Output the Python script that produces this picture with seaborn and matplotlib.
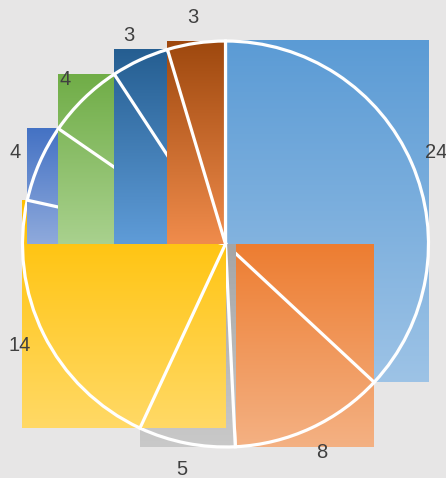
import matplotlib
matplotlib.use("Agg")
import matplotlib.pyplot as plt
import matplotlib.colors as mcolors
import seaborn as sns
import numpy as np

# slice values, clockwise from 12 o'clock
values = [24, 8, 5, 14, 4, 4, 3, 3]
labels = [str(v) for v in values]

# gradient fill per slice (top colour, bottom colour)
top_colors = ['#5b9bd5', '#ed7d31', '#a5a5a5', '#ffc000',
              '#4472c4', '#70ad47', '#255e91', '#9e480e']
bottom_colors = ['#9dc3e6', '#f4b183', '#c9c9c9', '#ffd966',
                 '#8faadc', '#a9d18e', '#5f9cd8', '#f08c4c']

bg = '#e7e6e6'

sns.set_style("white")
plt.rcParams['font.family'] = ['Liberation Sans', 'DejaVu Sans']

fig = plt.figure(figsize=(4.46, 4.78), dpi=100, facecolor=bg)
ax = fig.add_axes([0, 0, 1, 1])
ax.set_facecolor(bg)

wedges, texts = ax.pie(values, labels=labels, startangle=90, counterclock=False,
                       labeldistance=1.13,
                       wedgeprops=dict(facecolor='none', edgecolor='white',
                                       linewidth=2.3),
                       textprops=dict(color='#404040', fontsize=14.5,
                                      ha='center', va='center'))
for t in texts:
    t.set_horizontalalignment('center')
    t.set_verticalalignment('center')
    t.set_zorder(100)


def wedge_bbox(w):
    # bounding box of the wedge, centre point included
    cx, cy = w.center
    r = w.r
    t1, t2 = w.theta1, w.theta2
    angs = [t1, t2]
    for a in range(-360, 721, 90):
        if t1 <= a <= t2:
            angs.append(a)
    xs = [cx] + [cx + r * np.cos(np.radians(a)) for a in angs]
    ys = [cy] + [cy + r * np.sin(np.radians(a)) for a in angs]
    return min(xs), max(xs), min(ys), max(ys)


# Excel-style gradient fill stretched over each slice's bounding box;
# each slice (fill + outline) is painted over the previous ones
for i, w in enumerate(wedges):
    x0, x1, y0, y1 = wedge_bbox(w)
    c_top = np.array(mcolors.to_rgb(top_colors[i]))
    c_bot = np.array(mcolors.to_rgb(bottom_colors[i]))
    f = np.linspace(0, 1, 256)[:, None, None]
    grad = c_top[None, None, :] * (1 - f) + c_bot[None, None, :] * f
    ax.imshow(grad, extent=(x0, x1, y0, y1), aspect='auto',
              origin='upper', zorder=2 + 2 * i, interpolation='bilinear')
    w.set_zorder(3 + 2 * i)

# place the pie so that 1 unit ~ 203 px, centre at (225.5, 244) px
ppu = 203.0
ax.set_xlim(-225.5 / ppu, (446 - 225.5) / ppu)
ax.set_ylim(-(478 - 244) / ppu, 244 / ppu)
ax.set_aspect('auto')
ax.axis('off')

fig.savefig('out.png', dpi=100, facecolor=bg)
